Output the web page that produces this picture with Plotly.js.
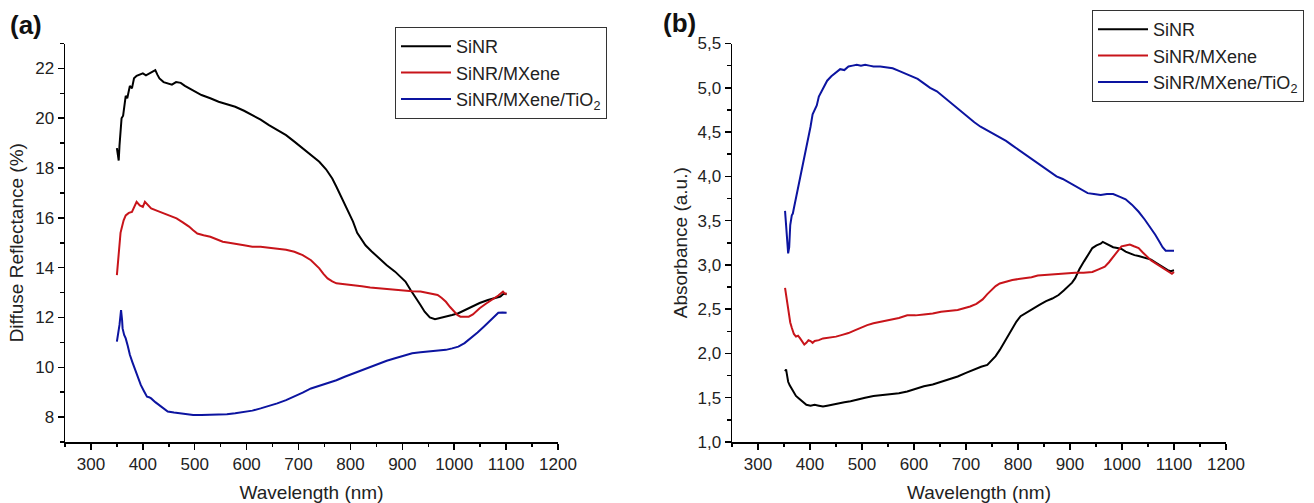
<!DOCTYPE html>
<html>
<head>
<meta charset="utf-8">
<script src="https://cdn.plot.ly/plotly-3.0.1.min.js"></script>
<style>html,body{margin:0;padding:0;background:#fff;}#chart{width:1314px;height:503px;}</style>
</head>
<body>
<div id="chart"></div>
<script>
// ---- Panel (a): Diffuse reflectance (%) ----
const reflSiNR_x = [350,352,353.5,355,357,359,362,365,367,370,373,375,379,383,388,394,400,406,412,418,424,428,432,440,448,456,464,473,481,489,500,513,530,546,562,578,595,611,627,643,660,676,692,708,724,740,753,765,773,781,789,797,805,813,821,829,841,854,870,886,896,906,916,927,935,943,953,963,974,984,996,1008,1020,1032,1049,1065,1077,1089,1095,1101];
const reflSiNR_y = [18.8,18.5,18.3,18.9,19.6,20.0,20.1,20.6,20.9,20.8,21.1,21.3,21.2,21.6,21.7,21.75,21.8,21.72,21.8,21.85,21.93,21.75,21.6,21.45,21.4,21.35,21.45,21.42,21.3,21.2,21.08,20.93,20.8,20.66,20.56,20.46,20.3,20.13,19.94,19.72,19.52,19.32,19.06,18.8,18.54,18.25,17.95,17.58,17.25,16.9,16.55,16.24,15.85,15.4,15.15,14.9,14.65,14.4,14.1,13.84,13.65,13.44,13.1,12.77,12.5,12.23,12.0,11.93,11.98,12.03,12.1,12.17,12.3,12.43,12.58,12.7,12.78,12.84,12.95,12.93];

const reflMX_x = [350,352,354,355,357,359,363,367,373,379,384,388,394,400,404,410,416,428,440,452,465,477,489,497,505,517,530,542,554,566,578,595,611,627,643,660,676,692,708,724,732,740,748,756,765,773,789,805,822,838,854,870,886,903,919,935,951,968,976,984,992,1000,1006,1012,1020,1028,1036,1049,1061,1073,1085,1094,1098,1101];
const reflMX_y = [13.7,14.2,14.8,15.04,15.4,15.57,15.9,16.1,16.2,16.24,16.45,16.64,16.5,16.44,16.64,16.5,16.38,16.28,16.18,16.08,15.98,15.82,15.65,15.5,15.37,15.3,15.24,15.14,15.04,15.0,14.97,14.9,14.84,14.84,14.8,14.75,14.72,14.64,14.5,14.3,14.15,13.97,13.75,13.57,13.45,13.37,13.33,13.3,13.25,13.2,13.17,13.13,13.1,13.06,13.05,13.04,12.97,12.9,12.78,12.63,12.42,12.23,12.1,12.03,12.02,12.03,12.12,12.37,12.55,12.7,12.88,13.04,12.95,12.97];

const reflTi_x = [350,353,355,357,358,360,361,364,367,371,375,380,384,390,396,402,408,412,416,424,432,440,448,460,473,485,497,513,530,546,562,578,594,611,627,643,659,676,692,708,724,740,756,773,789,805,822,838,854,870,886,903,919,935,951,968,984,996,1008,1020,1032,1045,1057,1065,1073,1079,1085,1093,1101];
const reflTi_y = [11.03,11.4,11.7,12.1,12.3,11.9,11.56,11.3,11.16,10.85,10.5,10.2,9.96,9.6,9.29,9.05,8.82,8.8,8.75,8.6,8.48,8.33,8.22,8.18,8.15,8.11,8.08,8.08,8.08,8.1,8.11,8.15,8.19,8.26,8.35,8.44,8.55,8.68,8.82,8.98,9.15,9.26,9.35,9.48,9.62,9.75,9.89,10.02,10.16,10.26,10.36,10.46,10.56,10.6,10.63,10.66,10.7,10.76,10.83,10.97,11.16,11.4,11.63,11.8,11.96,12.08,12.19,12.2,12.19];

// ---- Panel (b): Absorbance (a.u.) ----
const absSiNR_x = [352,354,356,358,361,365,369,373,377,381,385,389,393,401,409,417,425,433,441,453,466,478,490,506,522,538,555,571,587,603,619,636,652,668,684,700,716,729,741,749,757,765,773,781,789,797,805,818,830,842,854,866,878,888,898,904,910,918,927,935,943,951,959,963,973,983,991,999,1007,1015,1024,1032,1044,1056,1064,1072,1080,1088,1094,1100];
const absSiNR_y = [1.8,1.82,1.75,1.68,1.64,1.6,1.55,1.52,1.5,1.48,1.47,1.44,1.42,1.41,1.42,1.41,1.4,1.41,1.42,1.44,1.45,1.46,1.48,1.5,1.52,1.53,1.54,1.55,1.57,1.6,1.63,1.65,1.68,1.71,1.74,1.78,1.82,1.85,1.87,1.92,1.97,2.04,2.12,2.2,2.29,2.36,2.42,2.47,2.51,2.55,2.59,2.62,2.66,2.71,2.76,2.8,2.85,2.95,3.04,3.12,3.19,3.22,3.24,3.26,3.23,3.2,3.19,3.18,3.15,3.13,3.11,3.1,3.08,3.06,3.03,3.0,2.97,2.94,2.93,2.94];

const absMX_x = [352,354,356,359,362,365,369,373,377,381,385,389,393,397,401,405,409,417,425,437,450,462,474,486,498,510,522,538,555,571,587,603,619,636,652,668,684,696,708,720,732,741,749,757,765,777,789,801,813,826,838,858,878,894,910,926,943,955,967,975,983,991,999,1007,1015,1023,1032,1040,1048,1056,1064,1072,1080,1090,1096,1100];
const absMX_y = [2.74,2.66,2.55,2.44,2.35,2.29,2.22,2.19,2.2,2.17,2.13,2.1,2.12,2.15,2.14,2.12,2.14,2.15,2.17,2.18,2.19,2.21,2.23,2.26,2.29,2.32,2.34,2.36,2.38,2.4,2.43,2.43,2.44,2.45,2.47,2.48,2.49,2.51,2.53,2.56,2.61,2.67,2.72,2.76,2.79,2.81,2.83,2.84,2.85,2.86,2.88,2.89,2.9,2.9,2.91,2.91,2.92,2.95,2.98,3.03,3.09,3.15,3.21,3.22,3.23,3.21,3.19,3.14,3.09,3.05,3.02,2.99,2.96,2.93,2.9,2.92];

const absTi_x = [352,354,356,358,360,362,365,367,369,373,377,381,385,389,393,397,401,405,409,413,417,421,425,433,441,449,458,466,474,482,490,498,506,514,522,535,547,559,571,583,595,607,619,631,644,656,668,680,692,704,716,728,741,753,765,777,789,801,813,825,838,850,862,874,886,898,910,922,934,946,959,971,983,995,1007,1019,1032,1044,1056,1064,1072,1078,1084,1092,1100];
const absTi_y = [3.61,3.45,3.25,3.13,3.2,3.45,3.56,3.58,3.64,3.75,3.87,3.98,4.1,4.22,4.33,4.45,4.56,4.7,4.76,4.8,4.9,4.95,4.99,5.08,5.13,5.17,5.21,5.2,5.24,5.25,5.26,5.25,5.26,5.25,5.24,5.24,5.23,5.22,5.19,5.16,5.13,5.1,5.05,5.0,4.96,4.9,4.84,4.79,4.73,4.67,4.61,4.56,4.52,4.48,4.44,4.4,4.35,4.3,4.25,4.2,4.14,4.09,4.04,4.0,3.97,3.93,3.89,3.85,3.81,3.8,3.79,3.8,3.8,3.77,3.74,3.68,3.6,3.51,3.41,3.34,3.26,3.2,3.16,3.16,3.16];

const seriesNames = ['SiNR', 'SiNR/MXene', 'SiNR/MXene/TiO<sub>2</sub>'];
const seriesColors = ['#000000', '#c8141a', '#0c14a0'];
const xTitle = 'Wavelength (nm)';
const yTitleA = 'Diffuse Reflectance (%)';
const yTitleB = 'Absorbance (a.u.)';

const FONT = 'Liberation Sans, Arial, sans-serif';

function tr(x, y, i, xa, ya, leg) {
  return {x: x, y: y, name: seriesNames[i], type: 'scatter', mode: 'lines',
    xaxis: xa, yaxis: ya, legend: leg,
    line: {color: seriesColors[i], width: 2}};
}

const data = [
  tr(reflSiNR_x, reflSiNR_y, 0, 'x', 'y', 'legend'),
  tr(reflMX_x, reflMX_y, 1, 'x', 'y', 'legend'),
  tr(reflTi_x, reflTi_y, 2, 'x', 'y', 'legend'),
  tr(absSiNR_x, absSiNR_y, 0, 'x2', 'y2', 'legend2'),
  tr(absMX_x, absMX_y, 1, 'x2', 'y2', 'legend2'),
  tr(absTi_x, absTi_y, 2, 'x2', 'y2', 'legend2')
];

const W = 1314, H = 503;
const yDom = [(H - 442) / H, (H - 43.5) / H];

function xAxis(d0, d1, anchor) {
  return {
    domain: [d0 / W, d1 / W], anchor: anchor, range: [250, 1200],
    dtick: 100, tick0: 0, showgrid: false, zeroline: false,
    showline: true, linecolor: '#000', linewidth: 1.5,
    ticks: 'outside', ticklen: 6, tickwidth: 1.5, tickcolor: '#000',
    minor: {ticks: 'outside', ticklen: 3.5, dtick: 50, tick0: 0, tickcolor: '#000', tickwidth: 1.5},
    tickfont: {family: FONT, size: 17, color: '#222'},
    title: {text: xTitle, font: {family: FONT, size: 19, color: '#222'}, standoff: 14},
    automargin: false
  };
}

function yAxis(anchor, range, dtick, minorDtick, fmt, title, standoff) {
  const ax = {
    domain: yDom, anchor: anchor, range: range, dtick: dtick, tick0: 0,
    showgrid: false, zeroline: false, showline: true, linecolor: '#000', linewidth: 1.5,
    ticks: 'outside', ticklen: 6, tickwidth: 1.5, tickcolor: '#000',
    minor: {ticks: 'outside', ticklen: 3.5, dtick: minorDtick, tick0: 0, tickcolor: '#000', tickwidth: 1.5},
    tickfont: {family: FONT, size: 17, color: '#222'},
    title: {text: title, font: {family: FONT, size: 19, color: '#222'}, standoff: standoff},
    automargin: false
  };
  if (fmt) ax.tickformat = fmt;
  return ax;
}

function legendBox(x, y) {
  return {
    x: x / W, y: 1 - y / H, xanchor: 'left', yanchor: 'top',
    bgcolor: '#fff', bordercolor: '#333', borderwidth: 1,
    font: {family: FONT, size: 18, color: '#222'}, itemwidth: 50, tracegroupgap: 0
  };
}

const layout = {
  width: W, height: H,
  margin: {l: 0, r: 0, t: 0, b: 0, autoexpand: false},
  paper_bgcolor: '#fff', plot_bgcolor: '#fff',
  separators: ',.',
  showlegend: true,
  font: {family: FONT, color: '#222'},
  xaxis: xAxis(65, 558, 'y'),
  xaxis2: xAxis(732, 1226, 'y2'),
  yaxis: yAxis('x', [7, 23], 2, 1, null, yTitleA, 6),
  yaxis2: yAxis('x2', [1, 5.5], 0.5, 0.25, '.1f', yTitleB, 5),
  legend: legendBox(395, 27),
  legend2: legendBox(1092, 10),
  annotations: [
    {text: '<b>(a)</b>', xref: 'paper', yref: 'paper', x: 8 / W, y: 1 - 8 / H,
     xanchor: 'left', yanchor: 'top', showarrow: false, font: {family: FONT, size: 26, color: '#111'}},
    {text: '<b>(b)</b>', xref: 'paper', yref: 'paper', x: 661 / W, y: 1 - 6 / H,
     xanchor: 'left', yanchor: 'top', showarrow: false, font: {family: FONT, size: 26, color: '#111'}}
  ]
};

Plotly.newPlot('chart', data, layout, {displayModeBar: false, staticPlot: true});
</script>
</body>
</html>
